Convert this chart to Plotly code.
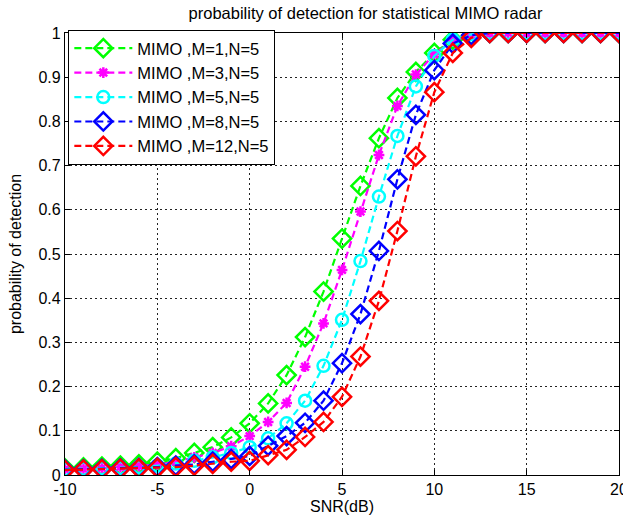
import plotly.graph_objects as go

snr = list(range(-10, 21))

pd_m1 = [0.015, 0.017, 0.019, 0.021, 0.024, 0.030, 0.038, 0.050, 0.063, 0.085,
         0.117, 0.162, 0.226, 0.312, 0.415, 0.535, 0.654, 0.762, 0.853, 0.912,
         0.955, 0.985, 0.995, 1, 1, 1, 1, 1, 1, 1, 1]
pd_m3 = [0.013, 0.014, 0.016, 0.018, 0.020, 0.024, 0.030, 0.040, 0.050, 0.065,
         0.088, 0.120, 0.163, 0.245, 0.343, 0.464, 0.596, 0.724, 0.835, 0.906,
         0.952, 0.983, 0.995, 1, 1, 1, 1, 1, 1, 1, 1]
pd_m5 = [0.013, 0.014, 0.015, 0.016, 0.018, 0.021, 0.026, 0.032, 0.040, 0.050,
         0.063, 0.083, 0.117, 0.168, 0.247, 0.351, 0.484, 0.630, 0.767, 0.879,
         0.948, 0.985, 0.997, 1, 1, 1, 1, 1, 1, 1, 1]
pd_m8 = [0.012, 0.013, 0.014, 0.015, 0.016, 0.018, 0.021, 0.024, 0.030, 0.036,
         0.043, 0.066, 0.088, 0.118, 0.168, 0.253, 0.364, 0.507, 0.669, 0.815,
         0.916, 0.976, 0.995, 1, 1, 1, 1, 1, 1, 1, 1]
pd_m12 = [0.011, 0.012, 0.013, 0.014, 0.015, 0.016, 0.018, 0.021, 0.025, 0.030,
          0.032, 0.045, 0.057, 0.086, 0.120, 0.177, 0.268, 0.394, 0.552, 0.721,
          0.866, 0.955, 0.989, 1, 1, 1, 1, 1, 1, 1, 1]

x_ticks = [-10, -5, 0, 5, 10, 15, 20]
x_ticktext = ["-10", "-5", "0", "5", "10", "15", "20"]
y_ticks = [0, 0.1, 0.2, 0.3, 0.4, 0.5, 0.6, 0.7, 0.8, 0.9, 1]
y_ticktext = ["0", "0.1", "0.2", "0.3", "0.4", "0.5", "0.6", "0.7", "0.8", "0.9", "1"]

names = ["MIMO ,M=1,N=5", "MIMO ,M=3,N=5", "MIMO ,M=5,N=5",
         "MIMO ,M=8,N=5", "MIMO ,M=12,N=5"]
series = [pd_m1, pd_m3, pd_m5, pd_m8, pd_m12]
colors = ["#00FF00", "#FF00FF", "#00FFFF", "#0000FF", "#FF0000"]
symbols = ["diamond-open", "asterisk-open", "circle-open", "diamond-open", "diamond-open"]
sizes = [14, 9, 12, 14, 14]

fig = go.Figure()
for name, ys, c, s, sz in zip(names, series, colors, symbols, sizes):
    fig.add_trace(go.Scatter(
        x=snr, y=ys, name=name, mode="lines+markers",
        line=dict(color=c, width=2.2, dash="7px,4px"),
        marker=dict(symbol=s, size=sz, color=c, line=dict(color=c, width=2.5)),
    ))

font_family = "Liberation Sans, Arial, sans-serif"
axis_common = dict(
    showline=True, linecolor="black", linewidth=1.3, mirror="ticks",
    ticks="inside", ticklen=5, tickcolor="black",
    showgrid=True, gridcolor="#222222", gridwidth=1, griddash="2px,3px",
    zeroline=False, automargin=False, ticklabeloverflow="allow",
    tickfont=dict(size=16, color="black", family=font_family),
)

fig.update_layout(
    width=623, height=522,
    paper_bgcolor="white", plot_bgcolor="white",
    margin=dict(l=65, r=4, t=33, b=47, autoexpand=False),
    font=dict(family=font_family, color="black"),
    title=dict(text="probability of detection for statistical MIMO radar",
               x=338 / 623, xanchor="center", xref="paper",
               y=1 - 13 / 522, yanchor="middle", yref="container",
               font=dict(size=16.5, color="black")),
    xaxis=dict(range=[-10, 20], tickvals=x_ticks, ticktext=x_ticktext,
               title=dict(text="SNR(dB)", font=dict(size=16), standoff=0),
               **axis_common),
    yaxis=dict(range=[0, 1], tickvals=y_ticks, ticktext=y_ticktext,
               title=dict(text="probability of detection", font=dict(size=16), standoff=12),
               **axis_common),
    legend=dict(x=0.006, y=1.007, xanchor="left", yanchor="top",
                bgcolor="white", bordercolor="black", borderwidth=1,
                font=dict(size=16.5, color="black"), itemwidth=58,
                tracegroupgap=0),
    showlegend=True,
)

fig.write_html(
    "out.html",
    config={"displayModeBar": False},
    post_script="document.body.style.margin='0px';document.body.style.overflow='hidden';",
)
